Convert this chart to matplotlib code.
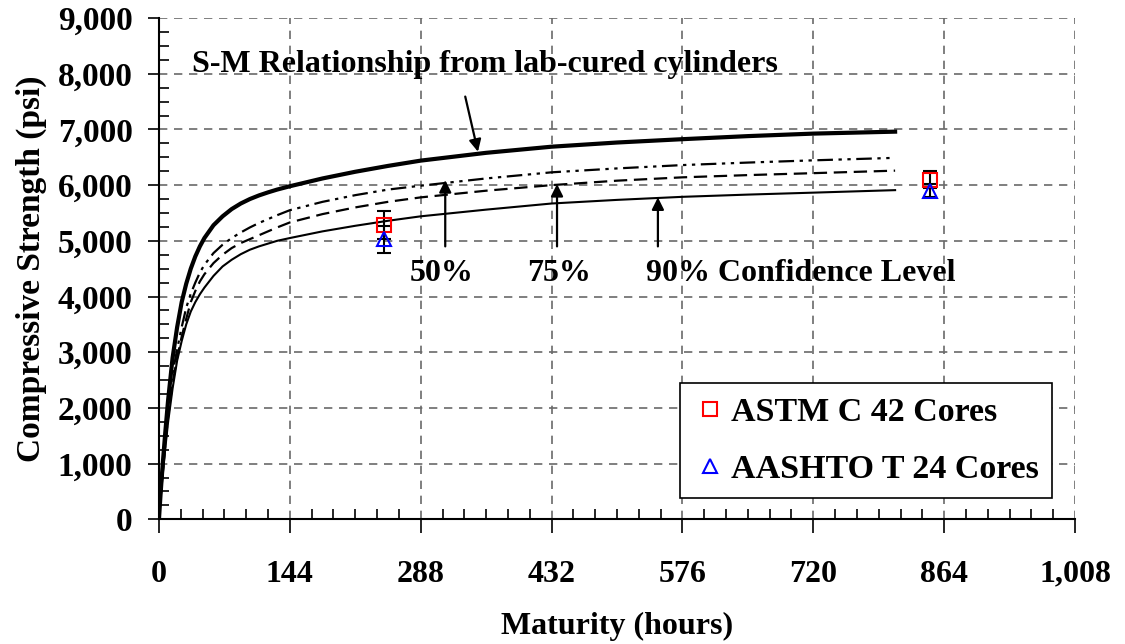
import matplotlib
matplotlib.use("Agg")
import matplotlib.pyplot as plt
from matplotlib.ticker import MultipleLocator
from matplotlib.lines import Line2D

plt.rcParams['font.family'] = ['Liberation Serif', 'DejaVu Serif']
plt.rcParams['font.weight'] = 'bold'

# ---- data ----
maturity = [0, 1, 2, 3, 5, 7, 10, 15, 20, 25, 30, 35, 40, 45, 50, 60, 70, 80, 90,
            100, 110, 120, 130, 144, 180, 216, 252, 288, 360, 432, 504, 576, 648,
            720, 810]
sm_lab = [0, 260, 510, 740, 1170, 1570, 2130, 2900, 3450, 3900, 4230, 4500, 4720,
          4900, 5050, 5280, 5440, 5570, 5670, 5750, 5815, 5870, 5920, 5980, 6120,
          6240, 6345, 6440, 6580, 6690, 6765, 6825, 6880, 6925, 6960]
conf50 = [0, 230, 450, 660, 1050, 1420, 1930, 2620, 3050, 3450, 3800, 4050, 4250,
          4430, 4570, 4780, 4930, 5050, 5150, 5240, 5320, 5390, 5460, 5550, 5700,
          5820, 5920, 5990, 6120, 6230, 6300, 6360, 6405, 6445, 6490]
conf75 = [0, 220, 430, 630, 1000, 1350, 1830, 2450, 2900, 3280, 3600, 3900, 4100,
          4270, 4400, 4600, 4750, 4870, 4960, 5030, 5100, 5170, 5240, 5330, 5480,
          5600, 5700, 5780, 5900, 6000, 6080, 6140, 6180, 6215, 6260]
conf90 = [0, 210, 410, 600, 950, 1280, 1740, 2350, 2850, 3200, 3500, 3730, 3900,
          4040, 4160, 4370, 4540, 4660, 4760, 4840, 4900, 4950, 5000, 5050, 5170,
          5270, 5360, 5440, 5560, 5670, 5735, 5790, 5830, 5865, 5910]

core_maturity = [248, 848]
astm_strength = [5280, 6100]
astm_err = [250, 160]
aashto_strength = [5030, 5900]
aashto_err = [240, 115]

x_ticks = [0, 144, 288, 432, 576, 720, 864, 1008]
x_ticklabels = ['0', '144', '288', '432', '576', '720', '864', '1,008']
y_ticks = [0, 1000, 2000, 3000, 4000, 5000, 6000, 7000, 8000, 9000]
y_ticklabels = ['0', '1,000', '2,000', '3,000', '4,000', '5,000', '6,000',
                '7,000', '8,000', '9,000']

FS = 23

fig = plt.figure(figsize=(11.25, 6.44), dpi=100)
ax = fig.add_axes([0.1413, 0.1936, 0.8143, 0.7784])

ax.set_xlim(0, 1008)
ax.set_ylim(0, 9000)

# grid
ax.set_xticks(x_ticks)
ax.set_yticks(y_ticks)
ax.grid(True, which='major', color='#6a6a6a', linestyle=(0, (5, 4)), linewidth=1.2)
ax.set_axisbelow(True)

# curves
ax.plot(maturity, sm_lab, color='black', linewidth=3.0, solid_joinstyle='round')
ax.plot(maturity, conf50, color='black', linewidth=1.6,
        linestyle=(0, (7, 2.5, 1.5, 2.5, 1.5, 2.5)))
ax.plot(maturity, conf75, color='black', linewidth=1.6, linestyle=(0, (6, 3)))
ax.plot(maturity, conf90, color='black', linewidth=1.5, solid_joinstyle='round')

# cores with error bars
ax.errorbar(core_maturity, astm_strength, yerr=astm_err, fmt='none',
            ecolor='black', elinewidth=1.5, capsize=5, capthick=1.5)
ax.errorbar(core_maturity, aashto_strength, yerr=aashto_err, fmt='none',
            ecolor='black', elinewidth=1.5, capsize=5, capthick=1.5)
ax.plot(core_maturity, astm_strength, linestyle='none', marker='s', markersize=10,
        markerfacecolor='none', markeredgecolor='red', markeredgewidth=1.5)
ax.plot(core_maturity, aashto_strength, linestyle='none', marker='^', markersize=10,
        markerfacecolor='none', markeredgecolor='blue', markeredgewidth=1.5)

# annotations
ax.text(359, 8030, 'S-M Relationship from lab-cured cylinders', ha='center',
        va='baseline', fontsize=FS, fontweight='bold')
arrow = dict(arrowstyle='-|>', color='black', lw=1.6, mutation_scale=18,
             shrinkA=0, shrinkB=0)
ax.annotate('', xy=(351, 6600), xytext=(337, 7590), arrowprops=arrow)
ax.annotate('', xy=(315, 6090), xytext=(315, 4900), arrowprops=arrow)
ax.annotate('', xy=(438, 6020), xytext=(438, 4900), arrowprops=arrow)
ax.annotate('', xy=(549, 5780), xytext=(549, 4900), arrowprops=arrow)
ax.text(311, 4270, '50%', ha='center', va='baseline', fontsize=FS, fontweight='bold')
ax.text(440, 4270, '75%', ha='center', va='baseline', fontsize=FS, fontweight='bold')
ax.text(536, 4270, '90% Confidence Level', ha='left', va='baseline',
        fontsize=FS, fontweight='bold')

# ticks
ax.set_xticklabels(x_ticklabels, fontsize=FS, fontweight='bold')
ax.set_yticklabels(y_ticklabels, fontsize=24, fontweight='bold')
ax.xaxis.set_minor_locator(MultipleLocator(24))
ax.yaxis.set_minor_locator(MultipleLocator(250))
ax.tick_params(axis='x', which='major', direction='out', length=10, width=1.2, pad=19)
ax.tick_params(axis='y', which='major', direction='out', length=8, width=1.2, pad=11)
ax.tick_params(which='minor', direction='in', length=7, width=1.2)

for side in ['top', 'right']:
    ax.spines[side].set_visible(False)
for side in ['left', 'bottom']:
    ax.spines[side].set_linewidth(1.5)

ax.set_xlabel('Maturity (hours)', fontsize=FS, fontweight='bold', labelpad=17)
ax.set_ylabel('Compressive Strength (psi)', fontsize=24, fontweight='bold', labelpad=8)

# legend
handles = [
    Line2D([], [], linestyle='none', marker='s', markersize=10, markerfacecolor='none',
           markeredgecolor='red', markeredgewidth=1.5),
    Line2D([], [], linestyle='none', marker='^', markersize=10, markerfacecolor='none',
           markeredgecolor='blue', markeredgewidth=1.5),
]
leg = ax.legend(handles, ['ASTM C 42 Cores', 'AASHTO T 24 Cores'], loc='upper right',
                bbox_to_anchor=(0.975, 0.271), prop={'size': 24.5, 'weight': 'bold'},
                frameon=True, fancybox=False, framealpha=1, edgecolor='black',
                handlelength=1.0, handletextpad=0.1, borderpad=0.4, labelspacing=0.75,
                borderaxespad=0)
leg.get_frame().set_linewidth(1.2)

fig.savefig('out.png', dpi=100)
